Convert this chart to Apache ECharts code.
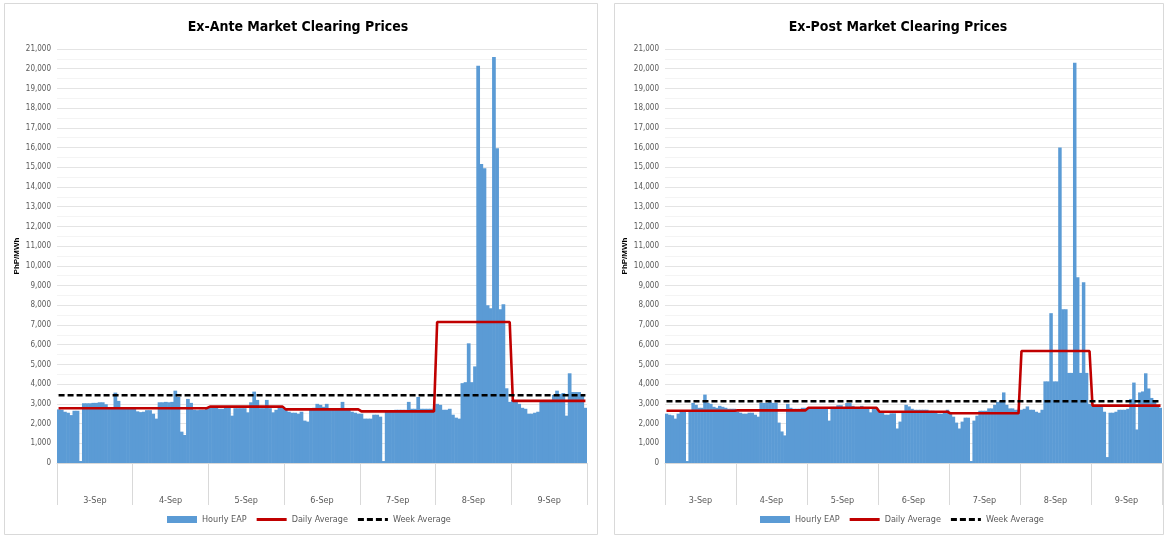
<!DOCTYPE html>
<html>
<head>
<meta charset="utf-8">
<script src="https://cdn.jsdelivr.net/npm/echarts@6/dist/echarts.min.js"></script>
<style>
html,body{margin:0;padding:0;background:#fff;}
#chart{width:1167px;height:538px;}
</style>
</head>
<body>
<div id="chart"></div>
<script>
// ---- data ----
const days = ['3-Sep', '4-Sep', '5-Sep', '6-Sep', '7-Sep', '8-Sep', '9-Sep'];

const anteHourly = [
  // 3-Sep
  2720, 2700, 2600, 2550, 2430, 2650, 2650, 100, 3030, 3030, 3030, 3050, 3050, 3080, 3080, 2980, 2780, 2780, 3570, 3150, 2780, 2780, 2780, 2800,
  // 4-Sep
  2780, 2620, 2580, 2600, 2680, 2680, 2500, 2250, 3080, 3080, 3100, 3080, 3100, 3670, 3350, 1590, 1420, 3250, 3050, 2700, 2680, 2700, 2700, 2780,
  // 5-Sep
  2800, 2850, 2800, 2750, 2750, 2800, 2800, 2400, 2780, 2780, 2780, 2780, 2570, 3080, 3620, 3200, 2780, 2780, 3200, 2780, 2570, 2700, 2800, 2850,
  // 6-Sep
  2750, 2600, 2550, 2550, 2500, 2600, 2150, 2100, 2750, 2800, 3000, 2950, 2850, 3000, 2700, 2700, 2700, 2750, 3100, 2700, 2700, 2600, 2550, 2500,
  // 7-Sep
  2500, 2250, 2250, 2250, 2450, 2450, 2350, 100, 2650, 2650, 2650, 2700, 2700, 2700, 2700, 3100, 2750, 2750, 3350, 2750, 2750, 2750, 2750, 2750,
  // 8-Sep
  3000, 2950, 2700, 2700, 2750, 2450, 2300, 2250, 4050, 4100, 6070, 4100, 4900, 20150, 15170, 14950, 8000, 7850, 20600, 15970, 7800, 8050, 3790, 3100,
  // 9-Sep
  3200, 3100, 3000, 2800, 2750, 2500, 2500, 2550, 2600, 3150, 3200, 3200, 3200, 3450, 3670, 3500, 3550, 2400, 4550, 3600, 3600, 3600, 3500, 2800
];
const anteDaily = [2780, 2780, 2860, 2720, 2620, 7150, 3150];
const anteWeek = 3440;

const postHourly = [
  // 3-Sep
  2500, 2450, 2420, 2250, 2500, 2600, 2600, 100, 2650, 3050, 2950, 2800, 2800, 3470, 3050, 3000, 2850, 2800, 2900, 2850, 2800, 2750, 2750, 2750,
  // 4-Sep
  2600, 2550, 2500, 2500, 2550, 2550, 2450, 2350, 3050, 3050, 3050, 3100, 3050, 3050, 2050, 1600, 1400, 3000, 2800, 2750, 2750, 2750, 2800, 2800,
  // 5-Sep
  2800, 2800, 2780, 2780, 2800, 2800, 2800, 2150, 2850, 2850, 2930, 2930, 2780, 3040, 3040, 2900, 2780, 2780, 2900, 2780, 2780, 2570, 2750, 2800,
  // 6-Sep
  2620, 2550, 2450, 2450, 2520, 2520, 1750, 2100, 2620, 2950, 2870, 2750, 2700, 2700, 2700, 2700, 2700, 2650, 2650, 2600, 2500, 2500, 2550, 2700,
  // 7-Sep
  2500, 2350, 2050, 1750, 2100, 2300, 2300, 100, 2150, 2400, 2650, 2650, 2650, 2770, 2770, 2950, 3100, 3150, 3580, 2950, 2770, 2770, 2700, 2700,
  // 8-Sep
  2700, 2750, 2870, 2700, 2700, 2600, 2550, 2700, 4140, 4140, 7600, 4140, 4140, 16000, 7800, 7800, 4570, 4570, 20300, 9420, 4570, 9170, 4570, 3000,
  // 9-Sep
  2900, 2870, 2870, 2870, 2600, 300, 2550, 2550, 2600, 2700, 2700, 2700, 2750, 3250, 4080, 1700, 3580, 3630, 4550, 3780, 3300, 3100, 2850, 2800
];
const postDaily = [2650, 2670, 2800, 2600, 2520, 5680, 2910];
const postWeek = 3130;

const titles = ['Ex-Ante Market Clearing Prices', 'Ex-Post Market Clearing Prices'];
const legendNames = ['Hourly EAP', 'Daily Average', 'Week Average'];
const yName = 'PhP/MWh';

// ---- build ----
const hours = [];
days.forEach(d => { for (let h = 1; h <= 24; h++) hours.push(d + ' ' + h); });
function expandDaily(arr) { return hours.map((_, i) => arr[Math.floor(i / 24)]); }
function constant(v) { return hours.map(() => v); }

const FONT = "'Liberation Sans Narrow', 'DejaVu Sans Condensed', Arial, sans-serif";
const grids = [
  { left: 57, right: 580, top: 49, bottom: 75 },
  { left: 665, right: 5, top: 49, bottom: 75 }
];

const xAxes = [], yAxes = [], series = [];
[[anteHourly, anteDaily, anteWeek], [postHourly, postDaily, postWeek]].forEach((set, g) => {
  xAxes.push({
    type: 'category', gridIndex: g, data: hours, position: 'bottom',
    axisLabel: { show: false }, axisTick: { show: false },
    axisLine: { show: true, lineStyle: { color: '#D9D9D9', width: 1 } }
  });
  xAxes.push({
    type: 'category', gridIndex: g, data: days, position: 'bottom', offset: 0,
    axisLine: { show: false },
    axisTick: { show: true, length: 42, interval: 0, lineStyle: { color: '#D9D9D9' } },
    axisLabel: { interval: 0, margin: 33, fontSize: 9, color: '#595959', fontFamily: FONT },
    splitLine: { show: false }
  });
  yAxes.push({
    type: 'value', gridIndex: g, min: 0, max: 21000, interval: 1000,
    name: yName, nameLocation: 'middle', nameGap: 36, nameRotate: 90,
    nameTextStyle: { fontSize: 8, fontWeight: 'bold', color: '#000', fontFamily: 'Arial, sans-serif' },
    axisLine: { show: false }, axisTick: { show: false },
    axisLabel: { fontSize: 8, color: '#595959', fontFamily: FONT, margin: 6,
      formatter: v => v.toLocaleString('en-US') },
    splitLine: { lineStyle: { color: '#E4E4E4', width: 1 } },
    minorTick: { show: false, splitNumber: 2 },
    minorSplitLine: { show: true, lineStyle: { color: '#F4F4F4', width: 1 } }
  });
  const [hourly, daily, week] = set;
  series.push({
    name: legendNames[0], type: 'bar', xAxisIndex: g * 2, yAxisIndex: g,
    data: hourly, barWidth: '118%', itemStyle: { color: '#5B9BD5' }, z: 2
  });
  series.push({
    name: legendNames[1], type: 'line', xAxisIndex: g * 2, yAxisIndex: g,
    data: expandDaily(daily), symbol: 'none', lineStyle: { color: '#C00000', width: 2.6 },
    itemStyle: { color: '#C00000' }, z: 4
  });
  series.push({
    name: legendNames[2], type: 'line', xAxisIndex: g * 2, yAxisIndex: g,
    data: constant(week), symbol: 'none', lineStyle: { color: '#000', width: 2.6, type: [6, 3] },
    itemStyle: { color: '#000' }, z: 5
  });
});

const legendItems = [
  { name: legendNames[0], icon: 'rect' },
  { name: legendNames[1], icon: 'path://M0,0H30V3H0Z' },
  { name: legendNames[2], icon: 'path://M0,0H6V3H0Z M9,0H15V3H9Z M18,0H24V3H18Z M27,0H30V3H27Z' }
];
const legendCommon = {
  data: legendItems, bottom: 9, itemWidth: 30, itemHeight: 7, itemGap: 10,
  textStyle: { fontSize: 9, color: '#595959', fontFamily: FONT }, selectedMode: false
};

const option = {
  animation: false,
  backgroundColor: '#fff',
  title: [
    { text: titles[0], left: 293, top: 15, textAlign: 'center',
      textStyle: { fontSize: 14, fontWeight: 'bold', color: '#000', fontFamily: FONT } },
    { text: titles[1], left: 893, top: 15, textAlign: 'center',
      textStyle: { fontSize: 14, fontWeight: 'bold', color: '#000', fontFamily: FONT } }
  ],
  legend: [
    Object.assign({}, legendCommon, { left: 162 }),
    Object.assign({}, legendCommon, { left: 755 })
  ],
  grid: grids,
  xAxis: xAxes,
  yAxis: yAxes,
  series: series,
  graphic: [
    { type: 'rect', shape: { x: 4.5, y: 3.5, width: 593, height: 531 }, style: { fill: 'none', stroke: '#D9D9D9', lineWidth: 1 }, silent: true },
    { type: 'rect', shape: { x: 614.5, y: 3.5, width: 549, height: 531 }, style: { fill: 'none', stroke: '#D9D9D9', lineWidth: 1 }, silent: true }
  ]
};

const chart = echarts.init(document.getElementById('chart'), null, { renderer: 'canvas' });
chart.setOption(option);
</script>
</body>
</html>
